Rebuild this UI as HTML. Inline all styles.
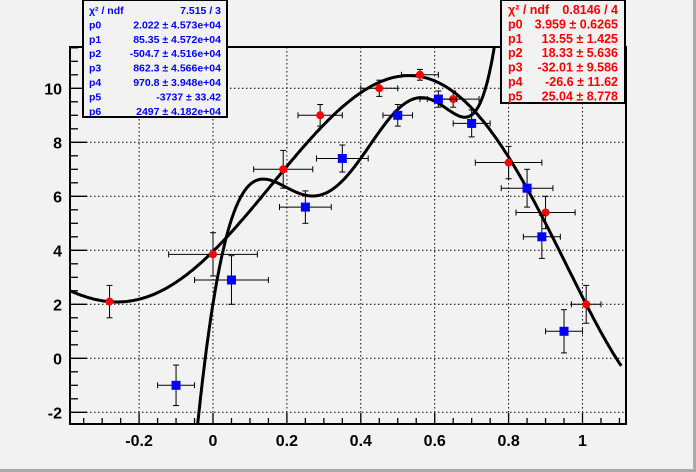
<!DOCTYPE html>
<html><head><meta charset="utf-8"><style>
html,body{margin:0;padding:0;width:696px;height:472px;overflow:hidden;background:#fff}
svg{display:block;font-family:"Liberation Sans",sans-serif}
</style></head><body>
<svg id="c" width="696" height="472">
<rect x="0" y="0" width="696" height="472" fill="#f2f2f2"/>
<line x1="0" y1="470.5" x2="696" y2="470.5" stroke="#aaa" stroke-width="3"/>
<line x1="694.5" y1="0" x2="694.5" y2="472" stroke="#aaa" stroke-width="3"/>
<defs><clipPath id="fc"><rect x="70" y="47" width="556" height="377"/></clipPath></defs>
<g id="grid"></g>
<g id="curves" clip-path="url(#fc)"></g>
<g id="pts"></g>
<rect x="70" y="47" width="556" height="377" fill="none" stroke="#000" stroke-width="2"/>
<g id="axes"></g>
<g>
<rect x="83" y="0" width="144" height="117" fill="#f2f2f2" stroke="#000" stroke-width="2"/>
<g font-size="10.5" font-weight="bold" fill="#0000ff" id="sb"></g>
</g>
<g>
<rect x="501" y="0" width="124" height="103" fill="#f2f2f2" stroke="#000" stroke-width="2"/>
<g font-size="12.5" font-weight="bold" fill="#ff0000" id="sr"></g>
</g>
</svg>
<script>
const redX=[-0.28,0,0.19,0.29,0.45,0.56,0.65,0.8,0.9,1.01];
const redY=[2.1,3.85,7.0,9.0,10.0,10.5,9.6,7.25,5.4,2.0];
const redEX=[0,0.12,0.08,0.06,0.05,0.05,0.07,0.09,0.08,0.04];
const redEY=[0.6,0.8,0.7,0.4,0.3,0.2,0.3,0.6,0.6,0.7];
const blueX=[-0.1,0.05,0.25,0.35,0.5,0.61,0.7,0.85,0.89,0.95];
const blueY=[-1.0,2.9,5.6,7.4,9.0,9.6,8.7,6.3,4.5,1.0];
const blueEX=[0.05,0.1,0.07,0.07,0.04,0.05,0.05,0.07,0.05,0.05];
const blueEY=[0.75,0.9,0.6,0.5,0.4,0.3,0.5,0.7,0.8,0.8];
const redPar=[3.959,13.55,18.33,-32.01,-26.6,25.04];
const bluePar=[2.022,85.35,-504.7,862.3,970.8,-3737,2497];
const xTicks=[-0.2,0,0.2,0.4,0.6,0.8,1];
const yTicks=[-2,0,2,4,6,8,10];
const blueStats=[["χ² / ndf","7.515 / 3"],["p0","2.022 ± 4.573e+04"],["p1","85.35 ± 4.572e+04"],["p2","-504.7 ± 4.516e+04"],["p3","862.3 ± 4.566e+04"],["p4","970.8 ± 3.948e+04"],["p5","-3737 ± 33.42"],["p6","2497 ± 4.182e+04"]];
const redStats=[["χ² / ndf","0.8146 / 4"],["p0","3.959 ± 0.6265"],["p1","13.55 ± 1.425"],["p2","18.33 ± 5.636"],["p3","-32.01 ± 9.586"],["p4","-26.6 ± 11.62"],["p5","25.04 ± 8.778"]];
const NS="http://www.w3.org/2000/svg";
const X=v=>213+v*369.5, Y=v=>358.3-v*27;
function mk(p,t,a){const e=document.createElementNS(NS,t);for(const k in a)e.setAttribute(k,a[k]);p.appendChild(e);return e;}
const grid=document.getElementById('grid'),axes=document.getElementById('axes');
xTicks.forEach(t=>{const l=mk(grid,'line',{x1:X(t),x2:X(t),y1:47,y2:424,stroke:'#000','stroke-dasharray':'1.5,2.5'});


const tx=mk(axes,'text',{x:X(t),y:446,'text-anchor':'middle','font-size':'16','font-weight':'bold'});tx.textContent=t;

});
yTicks.forEach(t=>{const l=mk(grid,'line',{x1:70,x2:626,y1:Y(t),y2:Y(t),stroke:'#000','stroke-dasharray':'1.5,2.5'});


const tx=mk(axes,'text',{x:62,y:Y(t)+6,'text-anchor':'end','font-size':'16','font-weight':'bold'});tx.textContent=t;

});
for(let v=-0.35;v<1.11;v+=0.05){const maj=Math.abs(v/0.2-Math.round(v/0.2))<0.01;mk(axes,'line',{x1:X(v),x2:X(v),y1:424,y2:424-(maj?11:6),stroke:'#000','stroke-width':1.3});}
for(let v=-2;v<11.6;v+=0.5){const maj=Math.abs(v/2-Math.round(v/2))<0.01;mk(axes,'line',{x1:70,x2:70+(maj?17:8),y1:Y(v),y2:Y(v),stroke:'#000','stroke-width':1.3});}
function poly(p,x){let s=0;for(let i=p.length-1;i>=0;i--)s=s*x+p[i];return s;}
const cv=document.getElementById('curves');
function curve(p,x0,x1,name){let d='';for(let i=0;i<=400;i++){const x=x0+(x1-x0)*i/400;let y=Y(poly(p,x));y=Math.max(10,Math.min(460,y));d+=(i?'L':'M')+X(x).toFixed(1)+','+y.toFixed(1);}
const e=mk(cv,'path',{d:d,fill:'none',stroke:'#000','stroke-width':3});

}
curve(redPar,-0.387,1.105,'red-fit-curve');
curve(bluePar,-0.08,0.85,'blue-fit-curve');
const pts=document.getElementById('pts');
function series(xs,ys,exs,eys,col,sq,name){xs.forEach((x,i)=>{const g=mk(pts,'g',{});


const cx=X(x),cy=Y(ys[i]),ex=exs[i]*369.5,ey=eys[i]*27;
if(ex>0){mk(g,'line',{x1:cx-ex,x2:cx+ex,y1:cy,y2:cy,stroke:'#000'});mk(g,'line',{x1:cx-ex,x2:cx-ex,y1:cy-3,y2:cy+3,stroke:'#000'});mk(g,'line',{x1:cx+ex,x2:cx+ex,y1:cy-3,y2:cy+3,stroke:'#000'});}
mk(g,'line',{x1:cx,x2:cx,y1:cy-ey,y2:cy+ey,stroke:'#000'});mk(g,'line',{x1:cx-3,x2:cx+3,y1:cy-ey,y2:cy-ey,stroke:'#000'});mk(g,'line',{x1:cx-3,x2:cx+3,y1:cy+ey,y2:cy+ey,stroke:'#000'});
if(sq)mk(g,'rect',{x:cx-4.5,y:cy-4.5,width:9,height:9,fill:col});else mk(g,'circle',{cx:cx,cy:cy,r:4,fill:col});});}
series(redX,redY,redEX,redEY,'#ff0000',false,'red-point');
series(blueX,blueY,blueEX,blueEY,'#0000ff',true,'blue-point');
function stats(id,rows,xl,xr,dy){const g=document.getElementById(id);rows.forEach((r,i)=>{const y=14+i*dy;
const a=mk(g,'text',{x:xl,y:y});a.textContent=r[0];


const b=mk(g,'text',{x:xr,y:y,'text-anchor':'end'});b.textContent=r[1];

});}
stats('sb',blueStats,89,221,14.4);
stats('sr',redStats,508,618,14.4);
</script>
</body></html>
